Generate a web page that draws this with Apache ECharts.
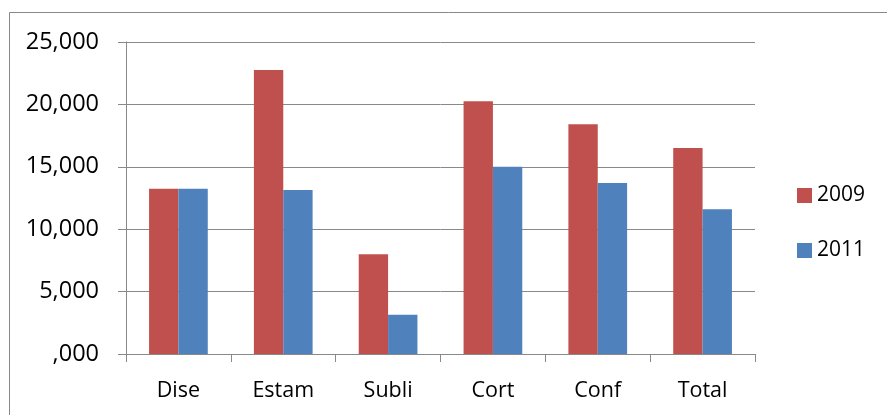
<!DOCTYPE html>
<html>
<head>
<meta charset="utf-8">
<style>
  html, body { margin: 0; padding: 0; background: #ffffff; }
  #chart { width: 887px; height: 415px; }
</style>
<script src="https://cdn.jsdelivr.net/npm/echarts@6/dist/echarts.min.js"></script>
</head>
<body>
<div id="chart"></div>
<script>
// Chart data
const categories = ['Dise', 'Estam', 'Subli', 'Cort', 'Conf', 'Total'];
const values2009 = [13250, 22750, 8000, 20250, 18400, 16500];
const values2011 = [13250, 13150, 3150, 15000, 13700, 11600];
const yTickLabels = [',000', '5,000', '10,000', '15,000', '20,000', '25,000'];
const yStep = 5000;

const gridColor = '#898989';
const font = '"Open Sans", "Noto Sans", sans-serif';

const chart = echarts.init(document.getElementById('chart'), null, { renderer: 'canvas' });

chart.setOption({
  backgroundColor: '#ffffff',
  animation: false,
  graphic: [{
    type: 'rect',
    shape: { x: 9.5, y: 12.5, width: 920, height: 440 },
    style: { fill: 'none', stroke: gridColor, lineWidth: 1 },
    silent: true,
    z: -1
  }],
  grid: { left: 126, right: 132, top: 42, bottom: 61 },
  legend: {
    orient: 'vertical',
    left: 797,
    top: 185,
    padding: 0,
    icon: 'rect',
    itemWidth: 15,
    itemHeight: 15,
    itemGap: 34,
    textStyle: { fontFamily: font, fontSize: 21, color: '#000000', lineHeight: 15 },
    data: ['2009', '2011']
  },
  xAxis: {
    type: 'category',
    data: categories,
    axisLine: { show: true, lineStyle: { color: gridColor, width: 1 } },
    axisTick: { show: true, length: 8, lineStyle: { color: gridColor, width: 1 } },
    axisLabel: { fontFamily: font, fontSize: 21.5, color: '#000000', margin: 26 }
  },
  yAxis: {
    type: 'value',
    min: 0,
    max: 25000,
    interval: yStep,
    axisLine: { show: true, lineStyle: { color: gridColor, width: 1 } },
    axisTick: { show: true, length: 8, lineStyle: { color: gridColor, width: 1 } },
    splitLine: { show: true, lineStyle: { color: gridColor, width: 1 } },
    axisLabel: {
      fontFamily: font,
      fontSize: 23.5,
      color: '#000000',
      margin: 27,
      formatter: function (v) { return yTickLabels[Math.round(v / yStep)]; }
    }
  },
  series: [
    {
      name: '2009',
      type: 'bar',
      data: values2009,
      barWidth: '28%',
      barGap: '0%',
      itemStyle: { color: '#C0504D' }
    },
    {
      name: '2011',
      type: 'bar',
      data: values2011,
      barWidth: '28%',
      barGap: '0%',
      itemStyle: { color: '#4F81BD' }
    }
  ]
});
</script>
</body>
</html>
